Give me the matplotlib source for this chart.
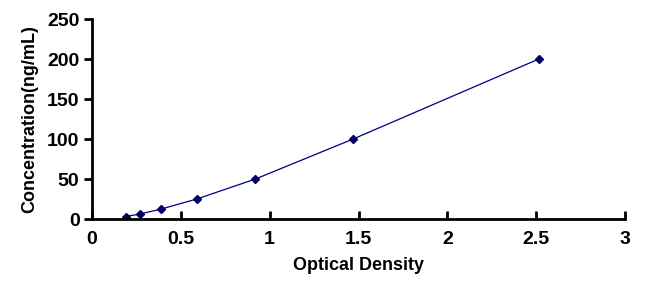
import matplotlib
matplotlib.use("Agg")
import matplotlib.pyplot as plt

od = [0.19, 0.27, 0.39, 0.59, 0.92, 1.47, 2.515]
conc = [3.12, 6.25, 12.5, 25, 50, 100, 200]
xticks = [0, 0.5, 1, 1.5, 2, 2.5, 3]
xticklabels = ["0", "0.5", "1", "1.5", "2", "2.5", "3"]
yticks = [0, 50, 100, 150, 200, 250]

plt.rcParams['font.family'] = ['Liberation Sans', 'DejaVu Sans']
plt.rcParams['font.weight'] = 'bold'

fig = plt.figure(figsize=(6.71, 2.82), dpi=100)
ax = fig.add_axes([92/671, 1-219/282, (625-92)/671, (219-19)/282])
ax.plot(od, conc, color='#000080', lw=0.9, marker='D', markersize=4,
        markerfacecolor='#000066', markeredgecolor='#000066')
ax.set_xlim(0, 3)
ax.set_ylim(0, 250)
ax.set_xticks(xticks)
ax.set_xticklabels(xticklabels)
ax.set_yticks(yticks)
for s in ['top', 'right']:
    ax.spines[s].set_visible(False)
for s in ['left', 'bottom']:
    ax.spines[s].set_linewidth(2)
ax.tick_params(axis='x', direction='in', length=6, width=2, labelsize=14, pad=9)
ax.tick_params(axis='y', direction='out', length=6, width=2, labelsize=14, pad=3)
for lbl in ax.get_xticklabels() + ax.get_yticklabels():
    lbl.set_fontweight('bold')
ax.set_xlabel('Optical Density', fontsize=13, fontweight='bold', labelpad=6)
ax.set_ylabel('Concentration(ng/mL)', fontsize=13, fontweight='bold', labelpad=6)
fig.savefig('out.png', dpi=100)
